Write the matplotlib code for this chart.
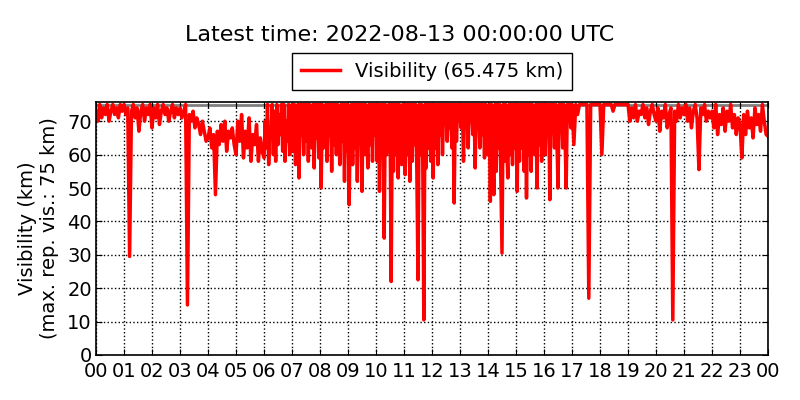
import numpy as np
import matplotlib
matplotlib.use('Agg')
import matplotlib.pyplot as plt

# visibility in km, one list per hour (00..23), values evenly spaced inside the hour
h00 = [73, 70, 75, 71, 74, 72, 75, 70, 73, 75, 72, 74, 71, 75, 73]
h01 = [75, 72, 74, 29.5, 73, 75, 71, 74, 67, 73, 75, 70, 74, 72, 75]
h02 = [68, 74, 71, 75, 69, 73, 75, 72, 74, 70, 73, 75, 71, 74, 72]
h03 = [74, 71, 73, 75, 15, 72, 70, 73, 68, 71, 69, 66, 70, 67, 64]
h04 = [65, 68, 62, 66, 48, 67, 63, 69, 64, 70, 61, 67, 65, 68, 63]
h05 = [60, 70, 64, 72, 59, 67, 62, 71, 58, 66, 63, 69, 58, 65, 61]
h06 = [59, 70, 62, 75, 57, 68, 65, 75, 60, 73, 58, 75, 63, 72, 66, 75, 61, 75, 58, 70, 64, 75, 60, 72]
h07 = [75, 61, 75, 57, 72, 75, 53, 75, 66, 75, 60, 75, 64, 75, 58, 75, 70, 62, 75, 56, 75, 65, 75, 59]
h08 = [75, 50, 75, 62, 73, 75, 58, 75, 66, 75, 55, 75, 63, 75, 60, 75, 68, 57, 75, 64, 75, 52, 75, 61]
h09 = [75, 45, 70, 75, 57, 75, 62, 75, 52, 75, 65, 75, 49, 75, 60, 75, 67, 56, 75, 63, 75, 58, 75, 66]
h10 = [75, 58, 75, 49, 75, 63, 75, 35, 75, 60, 66, 75, 75, 22, 75, 55, 75, 60, 75, 53, 75, 64, 57, 75]
h11 = [75, 54, 75, 60, 75, 52, 75, 58, 75, 63, 75, 55, 22.5, 75, 60, 75, 62, 10.5, 75, 56, 75, 62, 75, 58]
h12 = [75, 53, 75, 62, 75, 57, 75, 66, 75, 60, 75, 70, 75, 64, 75, 68, 75, 62, 75, 45.5, 75, 64, 75, 70]
h13 = [75, 68, 75, 58, 75, 72, 75, 62, 75, 70, 75, 66, 75, 56, 75, 70, 75, 62, 75, 66, 75, 59, 75, 71]
h14 = [60, 75, 46, 75, 63, 48, 75, 55, 75, 62, 75, 52, 30.5, 75, 58, 75, 63, 53, 75, 60, 75, 57, 75, 62]
h15 = [75, 49, 75, 58, 75, 62, 75, 55, 75, 47, 75, 60, 75, 55, 75, 66, 60, 75, 50, 75, 63, 75, 58, 75]
h16 = [75, 60, 75, 66, 75, 46.5, 75, 68, 75, 62, 75, 66, 50, 75, 70, 75, 62, 75, 66, 50, 75, 70, 75, 68]
h17 = [75, 63, 75, 72, 75, 75, 75, 75, 75, 17, 75, 75, 75, 75, 75]
h18 = [75, 60, 75, 75, 75, 75, 75, 73, 75, 75, 75, 75, 75, 75, 75]
h19 = [75, 70, 74, 71, 75, 70, 73, 72, 75, 71, 74, 69, 73, 75, 72]
h20 = [70, 74, 67, 73, 71, 75, 68, 72, 74, 10.5, 73, 70, 75, 71, 74]
h21 = [72, 75, 70, 74, 68, 73, 75, 71, 55.5, 74, 72, 75, 70, 73, 71]
h22 = [73, 68, 75, 66, 72, 69, 74, 67, 73, 70, 75, 68, 72, 66, 71]
h23 = [69, 59, 72, 66, 73, 68, 71, 65, 74, 69, 72, 67, 75, 70, 66]
latest = 65.475
max_vis = 75

hours = [h00, h01, h02, h03, h04, h05, h06, h07, h08, h09, h10, h11,
         h12, h13, h14, h15, h16, h17, h18, h19, h20, h21, h22, h23]
t = []
vis = []
for i, h in enumerate(hours):
    t += [i + k / len(h) for k in range(len(h))]
    vis += h
t.append(24)
vis.append(latest)

tick_pos = list(range(0, 25))
tick_lab = ['%02d' % (h % 24) for h in tick_pos]

fig = plt.figure(figsize=(8, 4), dpi=100)
ax = fig.add_axes([0.12, 0.1125, 0.84, 0.6325])

ax.axhline(max_vis, color='gray', lw=2, zorder=1)
ax.plot(t, vis, color='red', lw=2.5, zorder=2,
        label='Visibility (%.3f km)' % latest)

ax.set_xlim(0, 24)
ax.set_ylim(0, max_vis * 1.01)
ax.set_xticks(tick_pos)
ax.set_xticklabels(tick_lab)
ax.set_yticks(range(0, 80, 10))
ax.tick_params(direction='in', top=True, right=True, labelsize=14, length=4, pad=3)
ax.tick_params(axis='x', pad=5)
ax.grid(True, color='k', linestyle=':', lw=1)
for s in ax.spines.values():
    s.set_linewidth(1.2)

ax.set_ylabel('Visibility (km)\n(max. rep. vis.: 75 km)', fontsize=14,
              ha='center', labelpad=6)
leg = ax.legend(loc='lower center', bbox_to_anchor=(0.5, 1.01), fontsize=14,
                fancybox=False, framealpha=1, edgecolor='k',
                handlelength=2, borderpad=0.45)
leg.get_frame().set_linewidth(1)
fig.text(0.5, 0.9125, 'Latest time: 2022-08-13 00:00:00 UTC', ha='center',
         va='center', fontsize=16)

fig.savefig('out.png', dpi=100)
